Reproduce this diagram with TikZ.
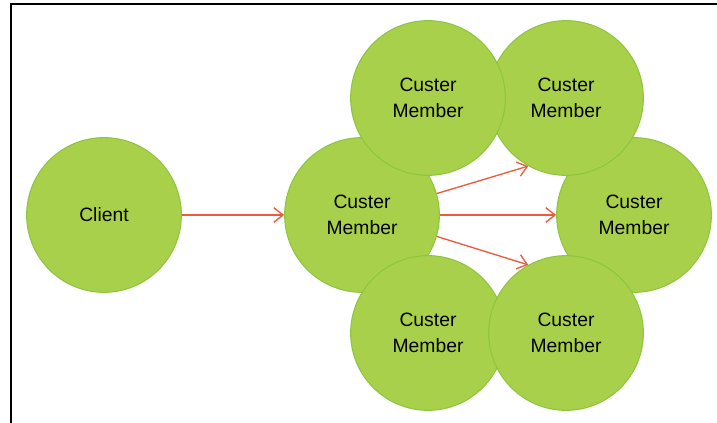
\documentclass[tikz,border=0pt]{standalone}
\usepackage{fontspec}
\setsansfont{Liberation Sans}
\usetikzlibrary{arrows.meta}
\definecolor{cfill}{HTML}{A9D04B}
\definecolor{cline}{HTML}{8CC63F}
\definecolor{cred}{HTML}{EE5A3C}
\tikzset{
  every picture/.style={font=\sffamily\fontsize{14.5}{19.5}\selectfont, x=0.75pt, y=0.75pt},
  member/.style={circle, draw=cline, fill=cfill, line width=0.8pt, minimum size=116pt, inner sep=0pt, align=center},
  arrow/.style={-{Straight Barb[length=7pt, width=11pt, line width=1pt]}, draw=cred, line width=1pt},
}

\begin{document}
\begin{tikzpicture}
  \useasboundingbox (0,0) rectangle (717,423);
  \draw[line width=1.3pt] (11,0) -- (11,419) -- (717,419);
  % client and the cluster around the first member
  \node[member] (client) at (104,208) {Client};
  \node[member] (m0) at (362,208) {Custer\\Member};
  \node[member] (mr) at (634,208) {Custer\\Member};
  \node[member] (mtr) at (566,325) {Custer\\Member};
  \node[member] (mtl) at (428,325) {Custer\\Member};
  \node[member] (mbl) at (428,90) {Custer\\Member};
  \node[member] (mbr) at (566,90) {Custer\\Member};
  % requests
  \draw[arrow] (client) -- (m0);
  \draw[arrow] (m0.16) -- (mtr.241);
  \draw[arrow] (m0) -- (mr);
  \draw[arrow] (m0.-16) -- (mbr.119);
\end{tikzpicture}
\end{document}
